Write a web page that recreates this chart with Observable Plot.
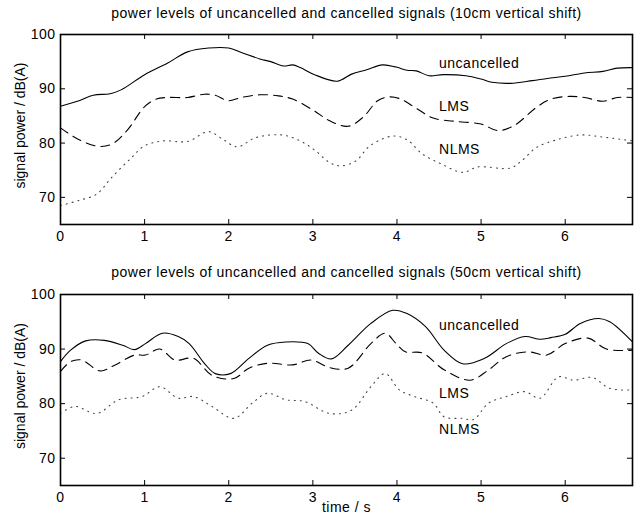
<!DOCTYPE html>
<html>
<head>
<meta charset="utf-8">
<script src="https://cdn.jsdelivr.net/npm/d3@7"></script>
<script src="https://cdn.jsdelivr.net/npm/@observablehq/plot@0.6"></script>
<style>
  html, body { margin: 0; padding: 0; background: #fff; }
  #chart { width: 638px; }
  svg text { letter-spacing: 0.5px; }
  svg .ylab text { letter-spacing: 0px; }
</style>
</head>
<body>
<div id="chart"></div>
<script>
// ---------- data (time in s, level in dB(A)) ----------
const xTicks = [0, 1, 2, 3, 4, 5, 6];
const yTicks = [70, 80, 90, 100];
const seriesNames = ["uncancelled", "LMS", "NLMS"];

const title1 = "power levels of uncancelled and cancelled signals (10cm vertical shift)";
const title2 = "power levels of uncancelled and cancelled signals (50cm vertical shift)";
const yLabel = "signal power / dB(A)";
const xLabel = "time / s";

const top_uncancelled = [[0,86.8],[0.22,87.8],[0.39,88.8],[0.59,89.1],[0.72,89.8],[1.0,92.6],[1.27,94.7],[1.51,96.8],[1.76,97.5],[2.0,97.5],[2.15,96.7],[2.37,95.5],[2.5,95.0],[2.65,94.2],[2.76,94.4],[2.85,93.9],[3.02,92.6],[3.29,91.4],[3.46,92.7],[3.64,93.5],[3.83,94.4],[3.99,94.0],[4.12,93.4],[4.23,93.3],[4.38,92.4],[4.55,92.6],[4.82,92.4],[5.0,91.8],[5.13,91.2],[5.35,91.0],[5.61,91.5],[5.79,91.9],[6.0,92.3],[6.23,92.9],[6.45,93.2],[6.62,93.8],[6.8,93.9]];
const top_lms = [[0,82.8],[0.21,80.7],[0.45,79.4],[0.61,79.8],[0.79,82.3],[1.0,86.7],[1.14,88.1],[1.27,88.4],[1.51,88.4],[1.71,89.0],[1.84,88.8],[1.99,87.8],[2.15,88.4],[2.37,88.9],[2.59,88.7],[2.76,88.1],[3.0,86.1],[3.2,84.1],[3.42,83.1],[3.6,84.8],[3.77,87.8],[3.9,88.5],[4.03,88.2],[4.21,86.6],[4.43,84.6],[4.69,84.0],[5.0,83.5],[5.2,82.3],[5.39,83.2],[5.66,86.6],[5.83,88.1],[6.05,88.6],[6.23,88.4],[6.45,87.7],[6.62,88.4],[6.8,88.4]];
const top_nlms = [[0,68.5],[0.21,69.4],[0.43,70.6],[0.61,73.7],[0.83,77.1],[1.0,79.5],[1.22,80.4],[1.51,80.3],[1.76,82.1],[1.93,80.7],[2.1,79.3],[2.32,81.0],[2.63,81.5],[2.85,80.4],[3.03,78.6],[3.2,76.4],[3.33,75.8],[3.51,76.7],[3.68,79.5],[3.95,81.3],[4.12,80.6],[4.3,78.0],[4.52,76.2],[4.78,74.6],[4.96,75.6],[5.35,75.4],[5.48,76.7],[5.66,79.2],[5.92,80.7],[6.19,81.5],[6.45,81.1],[6.8,80.4]];

const bot_uncancelled = [[0,87.7],[0.12,89.8],[0.3,91.5],[0.52,91.6],[0.74,90.7],[0.88,89.9],[1.01,91.0],[1.21,92.9],[1.4,92.3],[1.53,91.0],[1.71,87.4],[1.84,85.5],[2.02,85.5],[2.24,88.3],[2.46,90.7],[2.68,91.3],[2.94,91.0],[3.07,89.2],[3.22,88.2],[3.42,90.7],[3.69,94.7],[3.95,97.1],[4.12,96.5],[4.34,94.1],[4.56,89.8],[4.78,87.3],[5.04,88.3],[5.3,91.0],[5.52,92.3],[5.7,91.8],[5.83,92.1],[6.0,92.7],[6.18,94.7],[6.4,95.6],[6.53,95.0],[6.8,91.3]];
const bot_lms = [[0,85.9],[0.12,87.7],[0.25,88.0],[0.47,86.0],[0.65,87.1],[0.88,88.9],[1.01,88.9],[1.18,90.0],[1.36,88.0],[1.58,88.3],[1.8,85.2],[2.06,84.6],[2.24,86.5],[2.46,87.4],[2.76,87.1],[2.98,88.0],[3.2,86.6],[3.42,86.5],[3.69,91.0],[3.86,92.9],[3.99,91.0],[4.1,89.5],[4.3,89.3],[4.56,86.2],[4.87,84.3],[5.09,86.2],[5.3,88.6],[5.56,89.5],[5.78,88.9],[6.0,91.0],[6.27,92.0],[6.49,90.0],[6.8,89.8]];
const bot_nlms = [[0,78.2],[0.17,79.5],[0.43,78.2],[0.69,80.7],[0.97,81.3],[1.18,83.1],[1.4,81.0],[1.58,81.3],[1.8,79.5],[2.06,77.3],[2.28,80.1],[2.46,81.9],[2.68,80.7],[2.9,80.4],[3.2,78.2],[3.46,78.8],[3.69,83.1],[3.86,85.5],[4.03,82.5],[4.21,81.3],[4.43,80.1],[4.56,77.6],[4.78,77.3],[4.91,77.1],[5.09,80.1],[5.3,81.3],[5.52,82.2],[5.7,81.0],[5.92,84.9],[6.1,84.3],[6.32,84.8],[6.53,82.8],[6.8,82.5]];

// label anchor positions [t, level] for each series name
const top_labelPos = [[4.5,94.7],[4.5,86.7],[4.5,78.9]];
const bot_labelPos = [[4.5,94.4],[4.5,81.8],[4.5,75.2]];

// ---------- drawing ----------
const W = 638, ML = 60, MR = 6, MT = 34;
const FS = 14;
const font = "'Liberation Sans', Arial, Helvetica, sans-serif";

function panel({title, unc, lms, nlms, labelPos, height, marginBottom, showXLabel, titleDy}) {
  const fh = height - MT - marginBottom;
  const fw = W - ML - MR;
  const tk = 5;
  const labels = seriesNames.map((n, i) => ({name: n, t: labelPos[i][0], v: labelPos[i][1]}));
  const marks = [
    // inward ticks on all four sides
    Plot.tickX(xTicks, {x: d => d, insetTop: fh - tk, stroke: "black", strokeWidth: 1}),
    Plot.tickX(xTicks, {x: d => d, insetBottom: fh - tk, stroke: "black", strokeWidth: 1}),
    Plot.tickY(yTicks, {y: d => d, insetRight: fw - tk, stroke: "black", strokeWidth: 1}),
    Plot.tickY(yTicks, {y: d => d, insetLeft: fw - tk, stroke: "black", strokeWidth: 1}),
    Plot.axisX({ticks: xTicks, tickSize: 0, tickPadding: 7, tickFormat: d => String(d), label: null, fill: "black"}),
    Plot.axisY({ticks: yTicks, tickSize: 0, tickPadding: 5, tickFormat: d => String(d), label: null, fill: "black"}),
    Plot.line(unc, {x: d => d[0], y: d => d[1], curve: "catmull-rom", stroke: "black", strokeWidth: 1.1}),
    Plot.line(lms, {x: d => d[0], y: d => d[1], curve: "catmull-rom", stroke: "black", strokeWidth: 1.1, strokeDasharray: "9,6"}),
    Plot.line(nlms, {x: d => d[0], y: d => d[1], curve: "catmull-rom", stroke: "#444", strokeWidth: 1.1, strokeDasharray: "1,5"}),
    Plot.text(labels, {x: "t", y: "v", text: "name", textAnchor: "start", fill: "black", fontSize: FS}),
    Plot.frame({stroke: "black", strokeWidth: 1.6}),
    Plot.text([title], {frameAnchor: "top", dy: titleDy, textAnchor: "middle", lineAnchor: "middle", text: d => d, fill: "black", fontSize: FS}),
    Plot.text([yLabel], {frameAnchor: "left", dx: -40, dy: -4, rotate: -90, textAnchor: "middle", lineAnchor: "middle", text: d => d, fill: "black", fontSize: FS, className: "ylab"})
  ];
  if (showXLabel) {
    marks.push(Plot.text([xLabel], {frameAnchor: "bottom", dy: 22, textAnchor: "middle", lineAnchor: "middle", text: d => d, fill: "black", fontSize: FS}));
  }
  return Plot.plot({
    width: W, height, marginTop: MT, marginLeft: ML, marginRight: MR, marginBottom,
    x: {domain: [0, 6.8]},
    y: {domain: [65, 100]},
    style: {fontSize: FS + "px", fontFamily: font, background: "white", color: "black", overflow: "visible"},
    marks
  });
}

const chart = document.getElementById("chart");
chart.appendChild(panel({title: title1, unc: top_uncancelled, lms: top_lms, nlms: top_nlms, labelPos: top_labelPos, height: 260, marginBottom: 36, showXLabel: false, titleDy: -21}));
chart.appendChild(panel({title: title2, unc: bot_uncancelled, lms: bot_lms, nlms: bot_nlms, labelPos: bot_labelPos, height: 263, marginBottom: 38, showXLabel: true, titleDy: -22}));
</script>
</body>
</html>
